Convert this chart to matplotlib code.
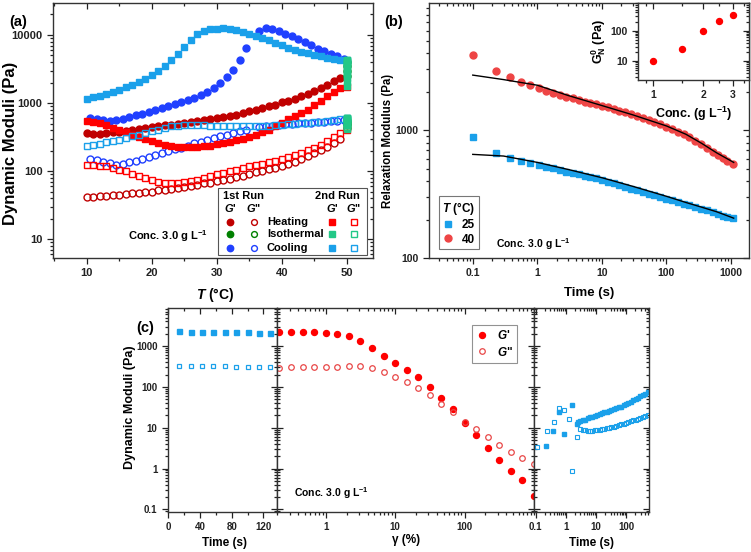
import numpy as np
import matplotlib
matplotlib.use('Agg')
import matplotlib.pyplot as plt
import matplotlib.lines as mlines
from matplotlib.patches import Rectangle
from matplotlib.ticker import (FixedLocator, LogLocator, NullFormatter,
                               FuncFormatter, MultipleLocator)

plt.rcParams['font.family'] = ['Liberation Sans', 'DejaVu Sans']
plt.rcParams['font.weight'] = 'bold'
plt.rcParams['axes.labelweight'] = 'bold'
plt.rcParams['mathtext.fontset'] = 'custom'
plt.rcParams['mathtext.rm'] = 'Liberation Sans:bold'
plt.rcParams['mathtext.it'] = 'Liberation Sans:italic:bold'
plt.rcParams['mathtext.bf'] = 'Liberation Sans:bold'

# ---------------- (a) temperature ramps ----------------
T_heat1 = np.arange(10, 50)
heat1_Gp = [365, 356, 356, 365, 373, 381, 394, 408, 417, 431, 447, 456, 472, 483, 500,
            511, 529, 547, 566, 585, 600, 618, 640, 677, 716, 758, 802, 849, 898, 950,
            1028, 1088, 1165, 1260, 1380, 1493, 1671, 1871, 2094, 2345]
heat1_Gpp = [42, 42, 43, 43, 44, 45, 46, 47, 48, 49, 50, 52, 53, 55, 57, 59, 61, 63, 66, 68,
             71, 74, 77, 81, 86, 91, 96, 101, 107, 113, 120, 128, 138, 150, 165, 185, 205,
             230, 260, 300]

T_iso1 = [50, 50, 50, 50]
iso1_Gp = [2500, 3000, 3500, 4000]
iso1_Gpp = [430, 470, 510, 550]

T_cool1 = np.r_[np.arange(10.5, 35), np.arange(36.5, 50)]
cool1_Gp = [600, 585, 560, 540, 560, 590, 625, 660, 700, 750, 800, 850, 905, 965, 1030,
            1100, 1190, 1300, 1450, 1650, 1950, 2400, 3100, 4300, 6500,
            11400, 12500, 12400, 11400, 10500, 9600, 8800, 7860, 7020, 6330, 5780, 5280,
            4880, 4460]
cool1_Gpp = [150, 145, 138, 130, 125, 128, 135, 142, 150, 160, 170, 182, 195, 208, 222,
             238, 255, 272, 290, 308, 325, 345, 365, 385, 405,
             440, 455, 468, 478, 487, 495, 503, 510, 518, 525, 532, 540, 548, 558]

T_run2 = np.arange(10, 51)
heat2_Gp = [550, 530, 505, 470, 435, 400, 370, 345, 320, 295, 275, 258, 245, 235, 230,
            228, 228, 230, 233, 237, 247, 255, 267, 285, 298, 320, 345, 373, 408, 457,
            511, 585, 640, 716, 800, 930, 1080, 1250, 1440, 1650, 1750]
heat2_Gpp = [124, 122, 120, 118, 112, 105, 100, 92, 84, 78, 73, 70, 68, 68, 68, 69, 71, 75,
             79, 84, 90, 94, 100, 105, 111, 118, 124, 129, 135, 143, 151, 161, 172, 185,
             203, 219, 239, 274, 317, 362, 400]

T_iso2 = [50] * 16
iso2_Gp = [1800, 2050, 2300, 2550, 2800, 3000, 3200, 3400, 3550, 3700, 3850, 3950, 4050,
           4150, 4250, 4300]
iso2_Gpp = [410, 430, 450, 470, 490, 505, 520, 535, 550, 560, 570, 580, 590, 598, 605, 608]

cool2_Gp = [1150, 1215, 1285, 1360, 1460, 1575, 1710, 1870, 2050, 2290, 2590, 3000, 3560,
            4270, 5290, 6700, 8400, 10200, 11600, 12300, 12300, 12500, 12300, 11800, 11100,
            10400, 9600, 8900, 8300, 7670, 7010, 6480, 6120, 5660, 5350, 5050, 4880, 4610,
            4460, 4360, 4300]
cool2_Gpp = [237, 245, 253, 264, 277, 290, 308, 325, 345, 365, 385, 408, 432, 457, 467, 478,
             478, 478, 472, 467, 467, 467, 460, 457, 457, 457, 457, 462, 467, 472, 478, 489,
             500, 505, 511, 523, 535, 548, 560, 574, 605]

# ---------------- (b) stress relaxation ----------------
t_relax = [0.1, 0.226, 0.373, 0.566, 0.78, 1.05, 1.38, 1.75, 2.21, 2.8, 3.55, 4.4, 5.4, 6.6,
           8.2, 10.1, 12.3, 15.3, 18.7, 23.2, 28.3, 35, 43, 53, 65, 80.5, 98, 122, 149, 185,
           226, 280, 343, 425, 518, 618, 740, 865, 1055]
G_25 = [885, 667, 602, 573, 550, 530, 517, 502, 487, 475, 464, 453, 442, 432, 419, 406, 394,
        383, 371, 360, 349, 339, 329, 319, 310, 300, 292, 283, 274, 266, 258, 251, 243, 236,
        229, 222, 215, 210, 206]
G_40 = [3850, 2930, 2600, 2400, 2260, 2140, 2040, 1955, 1888, 1830, 1777, 1723, 1671, 1633,
        1593, 1555, 1510, 1463, 1419, 1377, 1336, 1296, 1250, 1205, 1161, 1114, 1069, 1018,
        975, 930, 880, 830, 780, 728, 680, 640, 605, 578, 548]
t_fit = [0.1, 0.3, 1, 3, 10, 30, 100, 200, 350, 600, 1100]
fit_25 = [647, 628, 560, 493, 425, 364, 304, 272, 250, 230, 205]
fit_40 = [2700, 2490, 2250, 1870, 1560, 1320, 1080, 930, 790, 665, 560]

conc = [1, 1.5, 2, 2.5, 3]
G_N0 = [9.8, 24, 100, 214, 337]

# ---------------- (c) time / strain / recovery ----------------
t_sweep = [14.3, 28.6, 42.9, 57.1, 71.4, 85.7, 100, 114.3, 128.6]
sweep_Gp = [2300, 2260, 2230, 2200, 2180, 2160, 2150, 2130, 2100]
sweep_Gpp = [325, 322, 320, 318, 316, 315, 314, 312, 310]

strain = [0.215, 0.316, 0.464, 0.681, 1, 1.47, 2.15, 3.16, 4.64, 6.81, 10, 14.7, 21.5, 31.6,
          46.4, 68.1, 100, 147, 215, 316, 464, 681, 1000]
amp_Gp = [2240, 2200, 2200, 2160, 2120, 2000, 1720, 1300, 893, 569, 391, 263, 177, 101, 52,
          28.6, 12.7, 6.6, 3.1, 1.6, 0.86, 0.51, 0.21]
amp_Gpp = [294, 299, 299, 305, 305, 311, 317, 317, 294, 234, 177, 131, 95, 62, 38.6, 24.5,
           14, 9.1, 5.9, 3.7, 2.5, 1.8, 1.26]

t_rec_Gp = [0.22, 0.38, 0.6, 0.86, 1.6, 2.25, 2.5, 3.0, 3.6, 4.3, 5.2, 6.2, 7.5, 9, 10.8, 13,
            15.6, 18.7, 22.5, 27, 32, 39, 47, 56, 67, 81, 97, 116, 140, 168, 201, 242, 290,
            348, 418, 500]
rec_Gp = [3.5, 8.4, 24.5, 7, 36.5, 12.2, 13.5, 14.5, 15.2, 15.8, 17, 17.8, 18.7, 19.7, 20.6,
          21.6, 22.6, 23.6, 24.7, 26, 27.3, 28.6, 30, 31.5, 33, 35, 37.5, 40, 43, 46.5, 50,
          54, 58.5, 63.5, 68.5, 74]
t_rec_Gpp = [0.108, 0.23, 0.4, 0.6, 0.88, 1.26, 1.61, 2.25, 2.9, 3.6, 4.3, 5.2, 6.2, 7.5, 9,
             10.8, 13, 15.6, 18.7, 22.5, 27, 32, 39, 47, 56, 67, 81, 97, 116, 140, 168, 201,
             242, 290, 348, 418, 500]
rec_Gpp = [3.3, 8.4, 14, 30.8, 27, 16.2, 0.88, 5.8, 9.2, 8.9, 8.7, 8.5, 8.4, 8.5, 8.6, 8.7,
           8.9, 9.1, 9.4, 9.6, 9.9, 10.2, 10.6, 11.1, 11.6, 12, 12.6, 13.3, 13.9, 14.5, 15.1,
           15.6, 16.2, 17, 18, 19.2, 20.3]

DRED, BLUE, GREEN = '#C00000', '#2040FF', '#008000'
RED, MINT, LBLUE = '#FF0000', '#22C887', '#1AA0EA'
RED40 = '#EE4545'

W, H = 751, 552


def box(x0, y0, x1, y1):
    return [x0 / W, 1 - y1 / H, (x1 - x0) / W, (y1 - y0) / H]


def pts(ax, x, y, m, c, ms, filled=True, mew=1.0, **kw):
    ax.plot(x, y, ls='none', marker=m, ms=ms, mfc=c if filled else 'none',
            mec=c, mew=mew, **kw)


def logfmt(axis, majors):
    axis.set_major_locator(FixedLocator(majors))
    axis.set_minor_locator(LogLocator(base=10, subs=np.arange(2, 10), numticks=50))
    axis.set_major_formatter(FuncFormatter(lambda v, p: f"{v:g}"))
    axis.set_minor_formatter(NullFormatter())


def style(ax, fs):
    ax.tick_params(which='both', direction='out', top=True, right=True,
                   labelsize=fs, width=0.9, colors='#222222')
    ax.tick_params(which='major', length=4)
    ax.tick_params(which='minor', length=2)
    for s in ax.spines.values():
        s.set_linewidth(1.0)
        s.set_color('#333333')


def flip_inner(ax):
    # top and right ticks point into the frame
    for t in ax.xaxis.get_major_ticks() + ax.xaxis.get_minor_ticks():
        t.tick2line.set_marker(mlines.TICKDOWN)
    for t in ax.yaxis.get_major_ticks() + ax.yaxis.get_minor_ticks():
        t.tick2line.set_marker(mlines.TICKLEFT)


fig = plt.figure(figsize=(W / 100, H / 100), dpi=100)

# ================= (a) =================
axA = fig.add_axes(box(53, 3, 373, 258))
ms_c, ms_s = 5.0, 4.6
pts(axA, T_heat1, heat1_Gp, 'o', DRED, ms_c)
pts(axA, T_heat1, heat1_Gpp, 'o', DRED, ms_c, filled=False)
pts(axA, T_iso1, iso1_Gp, 'o', GREEN, ms_c)
pts(axA, T_iso1, iso1_Gpp, 'o', GREEN, ms_c, filled=False)
pts(axA, T_cool1, cool1_Gp, 'o', BLUE, ms_c)
pts(axA, T_cool1, cool1_Gpp, 'o', BLUE, ms_c, filled=False)
pts(axA, T_run2, heat2_Gp, 's', RED, ms_s)
pts(axA, T_run2, heat2_Gpp, 's', RED, ms_s, filled=False)
pts(axA, T_run2, cool2_Gp, 's', LBLUE, ms_s)
pts(axA, T_run2, cool2_Gpp, 's', LBLUE, ms_s, filled=False)
pts(axA, T_iso2, iso2_Gp, 's', MINT, ms_s)
pts(axA, T_iso2, iso2_Gpp, 's', MINT, ms_s, filled=False)
axA.set_yscale('log')
axA.set_xlim(4.8, 54.0)
axA.set_ylim(5.3, 29500)
axA.xaxis.set_major_locator(FixedLocator([10, 20, 30, 40, 50]))
axA.xaxis.set_minor_locator(MultipleLocator(5))
logfmt(axA.yaxis, [10, 100, 1000, 10000])
style(axA, 8)
axA.set_ylabel('Dynamic Moduli (Pa)', fontsize=12)
axA.yaxis.set_label_coords(-0.134, 0.45)
axA.yaxis.label.set_va('center')
axA.set_xlabel(r'$T$ (°C)', fontsize=10)
axA.xaxis.set_label_coords(0.506, -0.145)
axA.xaxis.label.set_va('center')
axA.text(0.234, 0.086, r'Conc. 3.0 g L$^{-1}$', transform=axA.transAxes, fontsize=8,
         va='center')

# custom legend for (a)
axA.add_patch(Rectangle((0.516, 0.012), 0.465, 0.263, transform=axA.transAxes,
                        facecolor='white', edgecolor='#555555', lw=0.8, zorder=5))
lfs = 8
tk = dict(transform=axA.transAxes, fontsize=lfs, ha='center', va='center', zorder=6)
axA.text(0.594, 0.243, '1st Run', **tk)
axA.text(0.8875, 0.243, '2nd Run', **tk)
cols = [0.553, 0.628, 0.872, 0.94]
for cx, lab in zip(cols, [r"$G$'", r'$G$"', r"$G$'", r'$G$"']):
    axA.text(cx, 0.196, lab, **tk)
rows = [0.141, 0.094, 0.039]
for ry, name, c1, c2 in zip(rows, ['Heating', 'Isothermal', 'Cooling'],
                            [DRED, GREEN, BLUE], [RED, MINT, LBLUE]):
    kw = dict(transform=axA.transAxes, clip_on=False, zorder=6)
    pts(axA, [cols[0]], [ry], 'o', c1, 4.6, **kw)
    pts(axA, [cols[1]], [ry], 'o', c1, 4.2, filled=False, **kw)
    pts(axA, [cols[2]], [ry], 's', c2, 4.2, **kw)
    pts(axA, [cols[3]], [ry], 's', c2, 4.0, filled=False, **kw)
    axA.text(0.668, ry, name, transform=axA.transAxes, fontsize=lfs, va='center',
             zorder=6)

# ================= (b) =================
axB = fig.add_axes(box(429, 3, 749, 258))
axB.plot(t_fit, fit_40, color='black', lw=1.0, zorder=3)
axB.plot(t_fit, fit_25, color='black', lw=1.0, zorder=3)
pts(axB, t_relax, G_25, 's', LBLUE, 4.6, label='25')
pts(axB, t_relax, G_40, 'o', RED40, 5.0, label='40')
axB.set_xscale('log')
axB.set_yscale('log')
axB.set_xlim(0.021, 1900)
axB.set_ylim(100, 9900)
logfmt(axB.xaxis, [0.1, 1, 10, 100, 1000])
logfmt(axB.yaxis, [100, 1000])
style(axB, 7.5)
axB.set_ylabel('Relaxation Modulus (Pa)', fontsize=8.3)
axB.yaxis.set_label_coords(-0.128, 0.46)
axB.yaxis.label.set_va('center')
axB.set_xlabel('Time (s)', fontsize=9.5)
axB.xaxis.set_label_coords(0.5, -0.137)
axB.xaxis.label.set_va('center')
axB.text(0.209, 0.055, r'Conc. 3.0 g L$^{-1}$', transform=axB.transAxes, fontsize=7.5,
         va='center')
legB = axB.legend(title=r'$T$ (°C)', loc='lower left', bbox_to_anchor=(0.03, 0.035),
                  fontsize=8.5, title_fontsize=8.5, frameon=True, fancybox=False,
                  edgecolor='#555555', handlelength=1.0, handletextpad=0.6,
                  borderpad=0.3, labelspacing=0.2, borderaxespad=0)
legB.get_frame().set_linewidth(0.8)
legB.get_title().set_fontweight('bold')

# inset
axIn = fig.add_axes(box(638, 3, 749, 80))
pts(axIn, conc, G_N0, 'o', RED, 4.3)
axIn.set_xscale('log')
axIn.set_yscale('log')
axIn.set_xlim(0.81, 3.77)
axIn.set_ylim(2.36, 820)
axIn.xaxis.set_major_locator(FixedLocator([1, 2, 3]))
axIn.xaxis.set_minor_locator(FixedLocator([0.9, 1.5, 2.5, 3.5]))
axIn.xaxis.set_major_formatter(FuncFormatter(lambda v, p: f"{v:g}"))
axIn.xaxis.set_minor_formatter(NullFormatter())
logfmt(axIn.yaxis, [10, 100])
style(axIn, 7.5)
axIn.set_xlabel(r'Conc. (g L$^{-1}$)', fontsize=9, labelpad=3)
axIn.set_ylabel(r'$\mathrm{G}_\mathrm{N}^\mathrm{0}$ (Pa)', fontsize=9, labelpad=2)

# ================= (c) =================
yl_c = (0.086, 8560)
axC1 = fig.add_axes(box(168, 308, 277, 512))
pts(axC1, t_sweep, sweep_Gp, 's', LBLUE, 3.6)
pts(axC1, t_sweep, sweep_Gpp, 's', LBLUE, 3.4, filled=False, mew=0.9)
axC1.set_yscale('log')
axC1.set_xlim(0, 137)
axC1.set_ylim(*yl_c)
axC1.xaxis.set_major_locator(FixedLocator([0, 40, 80, 120]))
axC1.xaxis.set_minor_locator(MultipleLocator(20))
logfmt(axC1.yaxis, [0.1, 1, 10, 100, 1000])
style(axC1, 7)
axC1.set_ylabel('Dynamic Moduli (Pa)', fontsize=9)
axC1.yaxis.set_label_coords(-0.349, 0.515)
axC1.yaxis.label.set_va('center')
axC1.set_xlabel('Time (s)', fontsize=8.5)
axC1.xaxis.set_label_coords(0.52, -0.152)
axC1.xaxis.label.set_va('center')

axC2 = fig.add_axes(box(277, 308, 534, 512))
pts(axC2, strain, amp_Gp, 'o', RED, 4.3, label="$G$'")
pts(axC2, strain, amp_Gpp, 'o', '#E84848', 4.0, filled=False, mew=0.9, label='$G$"')
axC2.set_xscale('log')
axC2.set_yscale('log')
axC2.set_xlim(0.198, 1000)
axC2.set_ylim(*yl_c)
logfmt(axC2.xaxis, [1, 10, 100])
logfmt(axC2.yaxis, [0.1, 1, 10, 100, 1000])
style(axC2, 7)
axC2.tick_params(axis='y', which='both', labelleft=False)
axC2.set_xlabel('γ (%)', fontsize=8.5)
axC2.xaxis.set_label_coords(0.502, -0.137)
axC2.xaxis.label.set_va('center')
axC2.text(0.066, 0.093, r'Conc. 3.0 g L$^{-1}$', transform=axC2.transAxes, fontsize=7.5,
          va='center')
legC = axC2.legend(loc='upper right', bbox_to_anchor=(0.934, 0.917), fontsize=8.5,
                   frameon=True, fancybox=False, edgecolor='#777777', handlelength=1.0,
                   handletextpad=0.8, borderpad=0.35, labelspacing=0.3, borderaxespad=0)
legC.get_frame().set_linewidth(0.8)

axC3 = fig.add_axes(box(534, 308, 649, 512))
pts(axC3, t_rec_Gp, rec_Gp, 's', LBLUE, 3.0)
pts(axC3, t_rec_Gpp, rec_Gpp, 's', LBLUE, 3.0, filled=False, mew=0.8)
axC3.set_xscale('log')
axC3.set_yscale('log')
axC3.set_xlim(0.088, 560)
axC3.set_ylim(*yl_c)
logfmt(axC3.xaxis, [0.1, 1, 10, 100])
logfmt(axC3.yaxis, [0.1, 1, 10, 100, 1000])
style(axC3, 7)
axC3.tick_params(axis='y', which='both', labelleft=False)
axC3.set_xlabel('Time (s)', fontsize=8.5)
axC3.xaxis.set_label_coords(0.504, -0.152)
axC3.xaxis.label.set_va('center')

for ax in (axC2, axC3):
    ax.tick_params(axis='y', which='both', direction='in')

# panel letters
fig.text(18 / W, 1 - 22 / H, '(a)', fontsize=10.5, ha='center', va='center')
fig.text(394 / W, 1 - 22 / H, '(b)', fontsize=10.5, ha='center', va='center')
fig.text(145 / W, 1 - 328 / H, '(c)', fontsize=10.5, ha='center', va='center')

fig.canvas.draw()
for ax in (axA, axB, axIn, axC1, axC2, axC3):
    flip_inner(ax)

fig.savefig('out.png', dpi=100)
